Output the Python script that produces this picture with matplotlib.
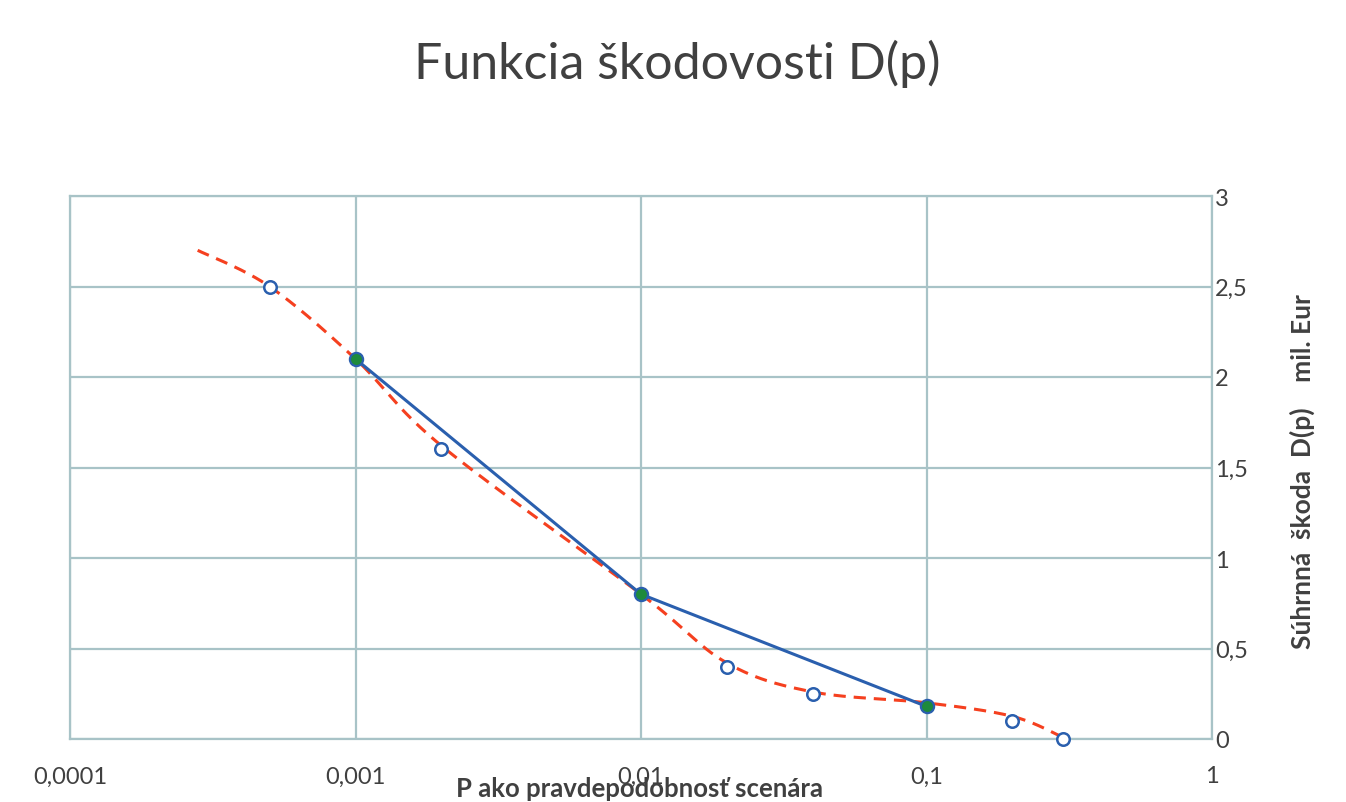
import numpy as np
import matplotlib.pyplot as plt
from matplotlib.ticker import FixedLocator, FixedFormatter

# data
p_open = [0.0005, 0.002, 0.02, 0.04, 0.2, 0.3]
d_open = [2.5, 1.6, 0.4, 0.25, 0.1, 0.0]
p_main = [0.001, 0.01, 0.1]
d_main = [2.1, 0.8, 0.18]
p_fit = [0.00028, 0.0005, 0.001, 0.002, 0.01, 0.02, 0.04, 0.1, 0.2, 0.3]
d_fit = [2.7, 2.5, 2.1, 1.62, 0.8, 0.42, 0.26, 0.2, 0.125, 0.01]
xticks = [0.0001, 0.001, 0.01, 0.1, 1]
xticklabels = ['0,0001', '0,001', '0,01', '0,1', '1']
yticks = [0, 0.5, 1, 1.5, 2, 2.5, 3]
yticklabels = ['0', '0,5', '1', '1,5', '2', '2,5', '3']

grid_c = '#a8c3c7'
text_c = '#404040'
blue = '#2a5fae'
red = '#f5401f'
green = '#1e8a3c'

plt.rcParams['font.family'] = ['Lato', 'DejaVu Sans']


def smooth(px, py, n=30):
    # Catmull-Rom through the points, done in screen-like units (log x)
    sx = np.log10(px) / 4.0 * 1142
    sy = np.asarray(py) / 3.0 * 543
    pts = np.column_stack([sx, sy])
    pts = np.vstack([pts[0], pts, pts[-1]])
    out = []
    t = np.linspace(0, 1, n)[:, None]
    for i in range(1, len(pts) - 2):
        p0, p1, p2, p3 = pts[i - 1], pts[i], pts[i + 1], pts[i + 2]
        seg = 0.5 * ((2 * p1) + (-p0 + p2) * t + (2 * p0 - 5 * p1 + 4 * p2 - p3) * t ** 2
                     + (-p0 + 3 * p1 - 3 * p2 + p3) * t ** 3)
        out.append(seg)
    out = np.vstack(out)
    return 10 ** (out[:, 0] / 1142 * 4), out[:, 1] / 543 * 3


fig = plt.figure(figsize=(13.46, 8.03), dpi=100)
ax = fig.add_axes([70 / 1346, 63 / 803, 1142 / 1346, 543 / 803])

ax.set_xscale('log')
ax.set_xlim(0.0001, 1)
ax.set_ylim(0, 3)

ax.xaxis.set_major_locator(FixedLocator(xticks))
ax.xaxis.set_major_formatter(FixedFormatter(xticklabels))
ax.xaxis.set_minor_locator(FixedLocator([]))
ax.set_yticks(yticks)
ax.set_yticklabels(yticklabels)
ax.yaxis.tick_right()

ax.grid(True, color=grid_c, linewidth=1.6)
for s in ax.spines.values():
    s.set_color(grid_c)
    s.set_linewidth(1.6)
ax.tick_params(length=0, labelsize=17, colors=text_c)
ax.tick_params(axis='x', pad=19)
ax.tick_params(axis='y', pad=2)

fx, fy = smooth(p_fit, d_fit)
ax.plot(fx, fy, color=red, linewidth=2.2, dashes=(4, 2.6), zorder=3)
ax.plot(p_main, d_main, color=blue, linewidth=2.2, zorder=4)
ax.plot(p_main, d_main, 'o', markersize=9.5, markerfacecolor=green,
        markeredgecolor=blue, markeredgewidth=1.6, zorder=5)
ax.plot(p_open, d_open, 'o', markersize=9, markerfacecolor='white',
        markeredgecolor=blue, markeredgewidth=1.8, zorder=5, clip_on=False)

fig.text(677 / 1346, 1 - 64 / 803, 'Funkcia škodovosti D(p)', ha='center', va='center',
         fontsize=36, color=text_c)
fig.text(640 / 1346, 6 / 803, 'P ako pravdepodobnosť scenára', ha='center', va='baseline',
         fontsize=18.5, fontweight='bold', color=text_c)
fig.text(1302 / 1346, 1 - 472 / 803, 'Súhrnná  škoda  D(p)    mil. Eur', ha='center', va='center',
         rotation=90, fontsize=19, fontweight='bold', color=text_c)

fig.savefig('out.png', dpi=100)
